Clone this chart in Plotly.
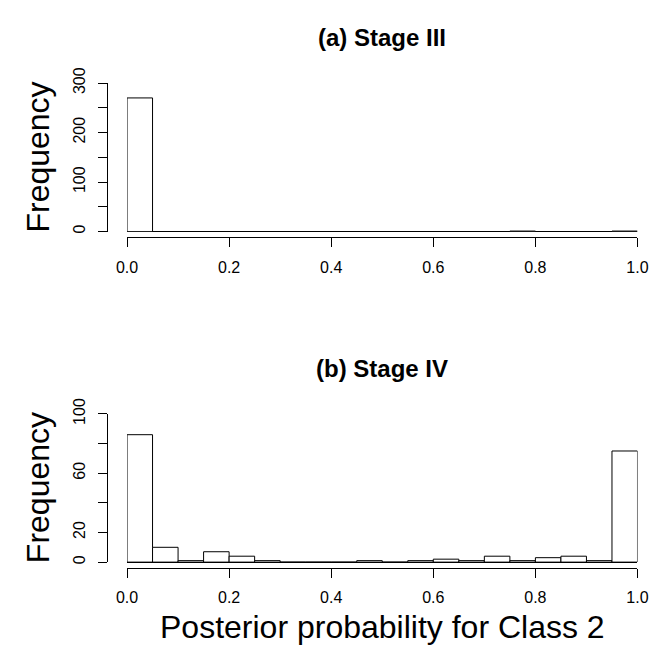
import plotly.graph_objects as go

# Histogram bins (left edges), width 0.05
bin_starts = [0.00, 0.05, 0.10, 0.15, 0.20, 0.25, 0.30, 0.35, 0.40, 0.45,
              0.50, 0.55, 0.60, 0.65, 0.70, 0.75, 0.80, 0.85, 0.90, 0.95]
bin_width = 0.05

counts_stage3 = [270, 0, 0, 0, 0, 0, 0, 0, 0, 0,
                 0, 0, 0, 0, 0, 1, 0, 0, 0, 1]
counts_stage4 = [86, 10, 1, 7, 4, 1, 0, 0, 0, 1,
                 0, 1, 2, 1, 4, 1, 3, 4, 1, 75]

x_ticks = [0.0, 0.2, 0.4, 0.6, 0.8, 1.0]
x_ticktext = ["0.0", "0.2", "0.4", "0.6", "0.8", "1.0"]
y3_ticks = [0, 50, 100, 150, 200, 250, 300]
y3_ticktext = ["0", "", "100", "", "200", "", "300"]
y4_ticks = [0, 20, 40, 60, 80, 100]
y4_ticktext = ["0", "20", "", "60", "", "100"]

titles = ["<b>(a) Stage III</b>", "<b>(b) Stage IV</b>"]
ylab = "Frequency"
xlab = "Posterior probability for Class 2"

W, H = 663, 649
FONT = "Liberation Sans, Arial, Helvetica, sans-serif"

def px_x(p):
    return p / W

def px_y(p):
    return 1 - p / H

fig = go.Figure()
fig.add_trace(go.Bar(x=bin_starts, y=counts_stage3, width=[bin_width] * len(bin_starts),
                     offset=0, marker=dict(color="white", line=dict(color="black", width=1)),
                     xaxis="x", yaxis="y", showlegend=False))
fig.add_trace(go.Bar(x=bin_starts, y=counts_stage4, width=[bin_width] * len(bin_starts),
                     offset=0, marker=dict(color="white", line=dict(color="black", width=1)),
                     xaxis="x2", yaxis="y2", showlegend=False))

xdom = [px_x(120), px_x(648)]
yaxis_pos = px_x(98.9)

common_x = dict(range=[0, 1], domain=xdom, showgrid=False, zeroline=False,
                showline=True, linecolor="black", linewidth=1,
                ticks="outside", ticklen=9, tickcolor="black", tickwidth=1,
                tickvals=x_ticks, ticktext=x_ticktext,
                tickfont=dict(family=FONT, size=16, color="black"),
                ticklabelstandoff=6, anchor="free")
common_y = dict(showgrid=False, zeroline=True, zerolinecolor="black", zerolinewidth=1,
                showline=True, linecolor="black", linewidth=1,
                ticks="outside", ticklen=9, tickcolor="black", tickwidth=1,
                tickangle=-90, tickfont=dict(family=FONT, size=16, color="black"),
                ticklabelstandoff=6, anchor="free", position=yaxis_pos)

fig.update_layout(
    width=W, height=H,
    margin=dict(l=0, r=0, t=0, b=0),
    paper_bgcolor="white", plot_bgcolor="white",
    barmode="overlay",
    xaxis=dict(**common_x, position=px_y(227.8)),
    yaxis=dict(**common_y, range=[0, 300], domain=[px_y(221.7), px_y(69.0)],
               tickvals=y3_ticks, ticktext=y3_ticktext),
    xaxis2=dict(**common_x, position=px_y(567.8)),
    yaxis2=dict(**common_y, range=[0, 100], domain=[px_y(561.7), px_y(409.3)],
                tickvals=y4_ticks, ticktext=y4_ticktext),
)

ann = []
for t, yc in zip(titles, [22.5, 363.0]):
    ann.append(dict(text=t, x=px_x(384), y=px_y(yc), xref="paper", yref="paper",
                    xanchor="center", yanchor="middle", showarrow=False,
                    font=dict(family=FONT, size=24, color="black")))
for yc in [145.0, 485.0]:
    ann.append(dict(text=ylab, x=px_x(27.5), y=px_y(yc), xref="paper", yref="paper",
                    xanchor="center", yanchor="middle", showarrow=False, textangle=-90,
                    font=dict(family=FONT, size=32, color="black")))
ann.append(dict(text=xlab, x=px_x(384), y=px_y(628.0), xref="paper", yref="paper",
                xanchor="center", yanchor="middle", showarrow=False,
                font=dict(family=FONT, size=32, color="black")))
fig.update_layout(annotations=ann)

fig.write_html("out.html", config={"displayModeBar": False},
               post_script="document.body.style.margin='0px';document.body.style.padding='0px';")
